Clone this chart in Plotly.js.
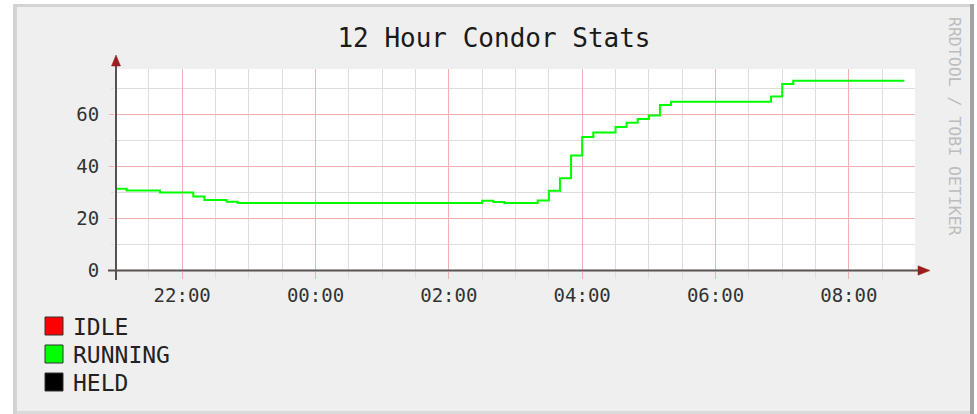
<!DOCTYPE html>
<html>
<head>
<meta charset="utf-8">
<script src="https://cdn.plot.ly/plotly-3.0.1.min.js"></script>
<style>
  html, body { margin: 0; padding: 0; background: #ffffff; }
  #chart { width: 977px; height: 414px; }
</style>
</head>
<body>
<div id="chart"></div>
<script>
// ---- data ----
const times = [
  "2010-01-01 21:00", "2010-01-01 21:10", "2010-01-01 21:40", "2010-01-01 22:10",
  "2010-01-01 22:20", "2010-01-01 22:40", "2010-01-01 22:50", "2010-01-02 02:30",
  "2010-01-02 02:40", "2010-01-02 02:50", "2010-01-02 03:20", "2010-01-02 03:30",
  "2010-01-02 03:40", "2010-01-02 03:50", "2010-01-02 04:00", "2010-01-02 04:10",
  "2010-01-02 04:30", "2010-01-02 04:40", "2010-01-02 04:50", "2010-01-02 05:00",
  "2010-01-02 05:10", "2010-01-02 05:20", "2010-01-02 06:50", "2010-01-02 07:00",
  "2010-01-02 07:10", "2010-01-02 08:50"
];
const running = [
  31.4, 30.8, 30.0, 28.5, 27.1, 26.4, 26.0, 26.8,
  26.3, 26.0, 26.9, 30.7, 35.5, 44.2, 51.3, 53.1,
  55.2, 56.8, 58.3, 59.6, 63.7, 64.9, 66.9, 71.7,
  73.0, 73.0
];
const idleTimes = ["2010-01-01 21:00", "2010-01-02 08:50"];
const idle = [0, 0];
const heldTimes = ["2010-01-01 21:00", "2010-01-02 08:50"];
const held = [0, 0];

const seriesNames = ["IDLE", "RUNNING", "HELD"];
const seriesColors = ["#FF0000", "#00FF00", "#000000"];

const titleText = "12 Hour Condor Stats";
const sideText = "RRDTOOL / TOBI OETIKER";
const xRange = ["2010-01-01 20:59:33", "2010-01-02 08:59:33"];
const yRange = [-0.192, 77.5];
const majorTickHours = [22, 0, 2, 4, 6, 8];

// ---- layout geometry (pixels -> paper) ----
const W = 977, H = 414;
const L = 115, R = 915, T = 69, B = 271;
const px = x => (x - L) / (R - L);
const py = y => (B - y) / (B - T);

// minor x grid: every 30 minutes, except where a major line sits
const minorX = [];
for (let i = 0; i <= 24; i++) {
  const d = new Date(Date.UTC(2010, 0, 1, 21, 0) + i * 1800000);
  const h = d.getUTCHours(), m = d.getUTCMinutes();
  if (m === 0 && majorTickHours.indexOf(h) >= 0) continue;
  minorX.push(d.toISOString().slice(0, 16).replace("T", " "));
}

const traces = [
  { x: idleTimes, y: idle, name: seriesNames[0], type: "scatter", mode: "lines",
    line: { color: seriesColors[0], width: 1, shape: "hv" }, hoverinfo: "skip" },
  { x: heldTimes, y: held, name: seriesNames[2], type: "scatter", mode: "lines",
    line: { color: seriesColors[2], width: 1, shape: "hv" }, hoverinfo: "skip" },
  { x: times, y: running, name: seriesNames[1], type: "scatter", mode: "lines",
    line: { color: seriesColors[1], width: 2, shape: "hv" } }
];

const shapes = [];
const annotations = [];

// outer white margins and frame borders
function rectPx(x0, y0, x1, y1, color, layer) {
  shapes.push({ type: "rect", xref: "paper", yref: "paper",
    x0: px(x0), x1: px(x1), y0: py(y1), y1: py(y0),
    fillcolor: color, line: { width: 0 }, layer: layer || "above" });
}
rectPx(0, 0, 13, H, "#ffffff");
rectPx(0, 0, W, 4, "#ffffff");
rectPx(974, 0, W, H, "#ffffff");
rectPx(13, 4, 17, H, "#D3D3D3");
rectPx(13, 4, 974, 7, "#D3D3D3");
rectPx(970, 4, 974, H, "#A2A2A2");
rectPx(17, 411, 970, H, "#DADADA");

// axis lines (extend beyond plot) and arrowheads
const axisColor = "#5A5050";
const axisY = 270.5;
shapes.push({ type: "line", xref: "paper", yref: "paper",
  x0: px(108), x1: px(920), y0: py(axisY), y1: py(axisY),
  line: { color: axisColor, width: 2 }, layer: "above" });
shapes.push({ type: "line", xref: "paper", yref: "paper",
  x0: px(116), x1: px(116), y0: py(280), y1: py(62),
  line: { color: axisColor, width: 2 }, layer: "above" });
const arrowColor = "#9A1E1E";
shapes.push({ type: "path", xref: "paper", yref: "paper",
  path: `M ${px(111.5)} ${py(66)} L ${px(120.5)} ${py(66)} L ${px(116)} ${py(55)} Z`,
  fillcolor: arrowColor, line: { color: arrowColor, width: 0.5 }, layer: "above" });
shapes.push({ type: "path", xref: "paper", yref: "paper",
  path: `M ${px(918)} ${py(axisY - 4.7)} L ${px(918)} ${py(axisY + 4.7)} L ${px(930)} ${py(axisY)} Z`,
  fillcolor: arrowColor, line: { color: arrowColor, width: 0.5 }, layer: "above" });

// legend (manual boxes + labels)
const legendOrder = [0, 1, 2];
const legendRowY = [326, 354, 382];
legendOrder.forEach((k, i) => {
  const cy = legendRowY[i];
  shapes.push({ type: "rect", xref: "paper", yref: "paper",
    x0: px(45), x1: px(63), y0: py(cy + 9), y1: py(cy - 9),
    fillcolor: seriesColors[k], line: { color: "#333333", width: 1 }, layer: "above" });
  annotations.push({ xref: "paper", yref: "paper", x: px(71), y: py(cy + 1),
    xanchor: "left", yanchor: "middle", showarrow: false, text: seriesNames[k],
    font: { family: "DejaVu Sans Mono", size: 23, color: "#222222" } });
});

// vertical side text
annotations.push({ xref: "paper", yref: "paper", x: px(955), y: py(126),
  xanchor: "center", yanchor: "middle", showarrow: false, text: sideText,
  textangle: 90, font: { family: "DejaVu Sans Mono", size: 16.5, color: "#BDBDBD" } });

const layout = {
  width: W, height: H,
  margin: { l: L, r: W - R, t: T, b: H - B, pad: 0 },
  paper_bgcolor: "#EFEFEF",
  plot_bgcolor: "#FFFFFF",
  showlegend: false,
  title: { text: titleText, xref: "paper", x: px(494), xanchor: "center",
    yref: "container", y: 1 - 38 / H, yanchor: "middle",
    font: { family: "DejaVu Sans Mono", size: 26, color: "#1A1A1A" } },
  xaxis: {
    type: "date", range: xRange, tickformat: "%H:%M",
    tick0: "2010-01-01 22:00", dtick: 7200000,
    showgrid: true, gridcolor: "#F2B0B0", gridwidth: 1,
    ticks: "outside", ticklen: 7, tickcolor: "#F2B0B0", tickwidth: 1,
    minor: { tickmode: "array", tickvals: minorX, showgrid: true, gridcolor: "#DEDEDE", gridwidth: 1,
      ticks: "outside", ticklen: 7, tickcolor: "#DEDEDE" },
    showline: false, zeroline: false, fixedrange: true,
    tickfont: { family: "DejaVu Sans Mono", size: 19, color: "#333333" }
  },
  yaxis: {
    range: yRange, dtick: 20, tick0: 0,
    showgrid: true, gridcolor: "#F2B0B0", gridwidth: 1,
    ticks: "outside", ticklen: 5, tickcolor: "#F2B0B0",
    minor: { tickmode: "array", tickvals: [10, 30, 50, 70], showgrid: true, gridcolor: "#DEDEDE", gridwidth: 1,
      ticks: "outside", ticklen: 3, tickcolor: "#DEDEDE" },
    showline: false, zeroline: false, fixedrange: true,
    ticklabelstandoff: 6,
    tickfont: { family: "DejaVu Sans Mono", size: 19, color: "#333333" }
  },
  shapes: shapes,
  annotations: annotations
};

Plotly.newPlot("chart", traces, layout, { staticPlot: true, displayModeBar: false });
</script>
</body>
</html>
